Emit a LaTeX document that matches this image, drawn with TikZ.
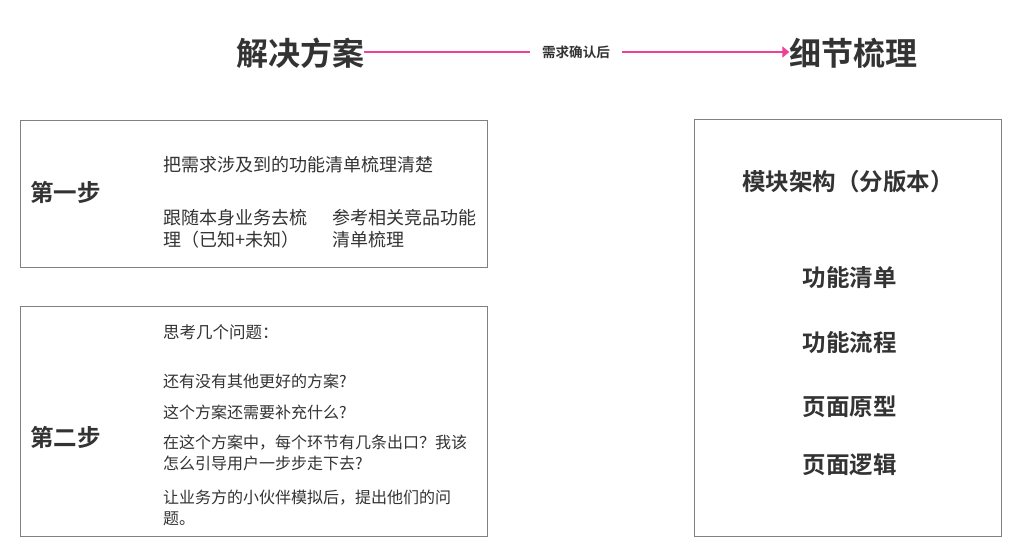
\documentclass[tikz,border=0pt]{standalone}
\usepackage{fontspec}
\setmainfont{Noto Sans CJK SC}[BoldFont={Noto Sans CJK SC Bold}]
\usetikzlibrary{arrows.meta}
\definecolor{txt}{RGB}{51,51,51}
\definecolor{frame}{RGB}{128,128,128}
\definecolor{pinkline}{RGB}{240,64,150}
\tikzset{
  x=1pt,y=-1pt,
  boxframe/.style={draw=frame,line width=1pt},
  title/.style={font=\fontsize{32}{36}\selectfont\bfseries,text=txt,inner sep=0pt},
  steplabel/.style={font=\fontsize{23.5}{28}\selectfont\bfseries,text=txt,inner sep=0pt,anchor=west},
  bodytxt/.style={font=\fontsize{18}{22}\selectfont,text=txt,inner sep=0pt,anchor=west,align=left},
  smalltxt/.style={font=\fontsize{16}{21}\selectfont,text=txt,inner sep=0pt,anchor=west,align=left},
  item/.style={font=\fontsize{23.5}{28}\selectfont\bfseries,text=txt,inner sep=0pt},
  conn/.style={draw=pinkline,line width=2pt},
}
\begin{document}
\begin{tikzpicture}
\useasboundingbox[fill=white] (0,0) rectangle (1016,548);
% titles and arrow
\node[title] (t1) at (300,53) {解决方案};
\node[title] (t2) at (853.5,53) {细节梳理};
\node[font=\fontsize{13.6}{16}\selectfont\bfseries,text=txt,inner xsep=12pt,inner ysep=0pt] (lbl) at (576,52) {需求确认后};
\draw[conn] (t1.east |- lbl.west) -- (lbl.west);
\draw[conn,-{Triangle[length=7pt,width=11pt]}] (lbl.east) -- (t2.west |- lbl.east);
% boxes
\node[boxframe,minimum width=467pt,minimum height=147pt,anchor=north west,inner sep=0pt] (b1) at (19.5,120) {};
\node[boxframe,minimum width=467pt,minimum height=230pt,anchor=north west,inner sep=0pt] (b2) at (19.5,305.5) {};
\node[boxframe,minimum width=306.5pt,minimum height=416pt,anchor=north west,inner sep=0pt] (b3) at (694,119.5) {};
% box 1
\node[steplabel] (s1) at (30,192) {第一步};
\node[bodytxt] (a1) at (163,165) {把需求涉及到的功能清单梳理清楚};
\node[bodytxt] (a2) at (163,229) {跟随本身业务去梳\\理（已知+未知）};
\node[bodytxt] (a3) at (332,229) {参考相关竞品功能\\清单梳理};
% box 2
\node[steplabel] (s2) at (30,437) {第二步};
\node[smalltxt,font=\fontsize{16.5}{21}\selectfont] (q0) at (163,332) {思考几个问题：};
\node[smalltxt] (q1) at (163,381) {还有没有其他更好的方案?};
\node[smalltxt] (q2) at (163,412) {这个方案还需要补充什么?};
\node[smalltxt] (q3) at (163,452.5) {在这个方案中，每个环节有几条出口？我该\\怎么引导用户一步步走下去?};
\node[smalltxt] (q4) at (163,507.5) {让业务方的小伙伴模拟后，提出他们的问\\题。};
% box 3
\node[item] (r1) at (848,182) {模块架构（分版本）};
\node[item] (r2) at (849.5,278) {功能清单};
\node[item] (r3) at (849.5,343) {功能流程};
\node[item] (r4) at (849.5,407) {页面原型};
\node[item] (r5) at (849.5,465) {页面逻辑};
\end{tikzpicture}
\end{document}
